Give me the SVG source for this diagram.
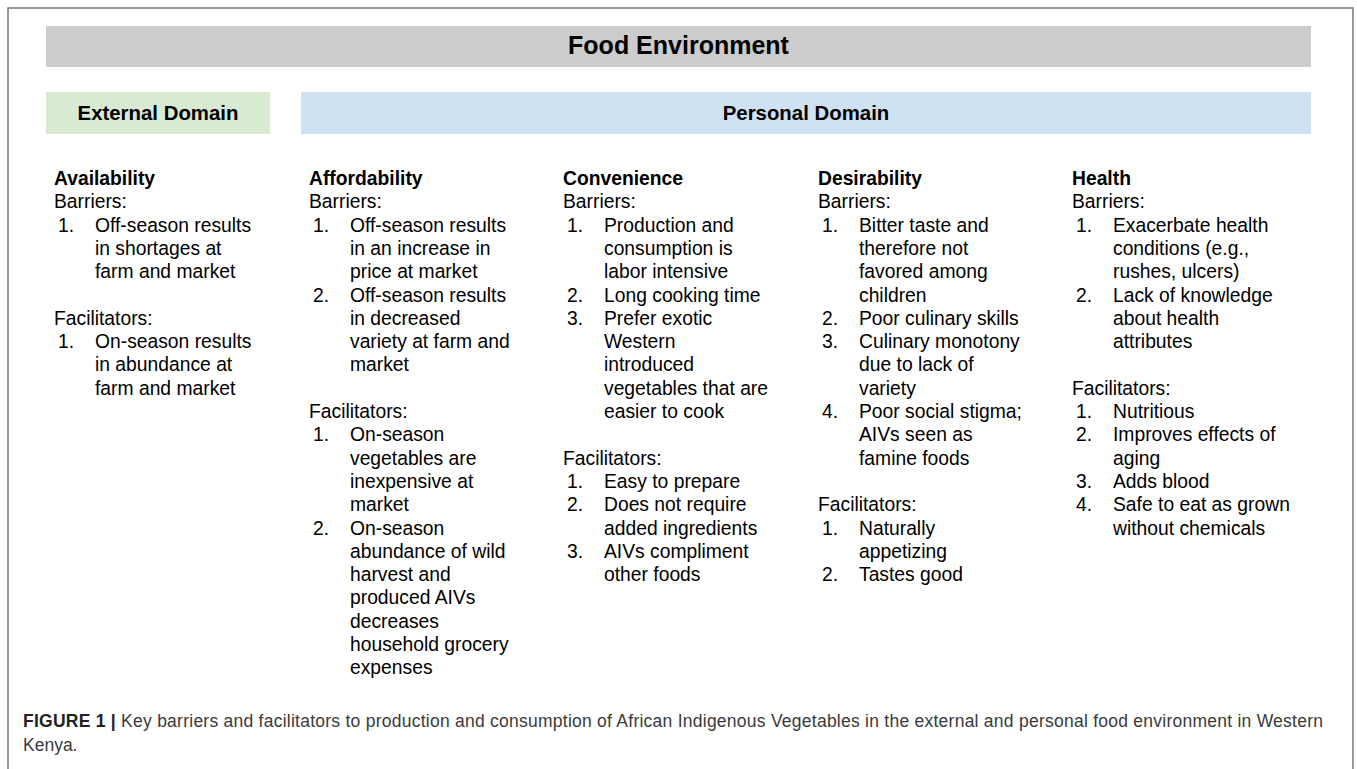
<svg xmlns="http://www.w3.org/2000/svg" width="1357" height="769" viewBox="0 0 1357 769">
<style>
.t{font-family:"Liberation Sans",Arial,Helvetica,sans-serif;font-size:19.3px;fill:#000}
.b{font-weight:bold}
.hd{font-family:"Liberation Sans",Arial,Helvetica,sans-serif;font-weight:bold;fill:#000;text-anchor:middle}
.cap{font-family:"Liberation Sans",Arial,Helvetica,sans-serif;font-size:17.5px;fill:#3a3a3a}
</style>
<rect x="0" y="0" width="1357" height="769" fill="#fff"/>
<rect id="frame" x="8" y="8" width="1345" height="780" fill="none" stroke="#777" stroke-width="1.5"/>
<g id="food-environment">
<rect x="46" y="26" width="1265" height="41" fill="#cccccc"/>
<text class="hd" x="678.5" y="54" font-size="25">Food Environment</text>
</g>
<g id="external-domain">
<rect x="46" y="92" width="224" height="42" fill="#d9ead3"/>
<text class="hd" x="158" y="119.5" font-size="20.4">External Domain</text>
</g>
<g id="personal-domain">
<rect x="301" y="92" width="1010" height="42" fill="#cfe2f3"/>
<text class="hd" x="806" y="119.5" font-size="20.4">Personal Domain</text>
</g>
<g id="availability" transform="translate(54,0)">
<text class="t b" x="0" y="185">Availability</text>
<text class="t" x="0" y="208.3">Barriers:</text>
<text class="t" x="4" y="231.6">1.</text><text class="t" x="41" y="231.6">Off-season results</text>
<text class="t" x="41" y="254.9">in shortages at</text>
<text class="t" x="41" y="278.2">farm and market</text>
<text class="t" x="0" y="324.8">Facilitators:</text>
<text class="t" x="4" y="348.1">1.</text><text class="t" x="41" y="348.1">On-season results</text>
<text class="t" x="41" y="371.4">in abundance at</text>
<text class="t" x="41" y="394.7">farm and market</text>
</g>
<g id="affordability" transform="translate(309,0)">
<text class="t b" x="0" y="185">Affordability</text>
<text class="t" x="0" y="208.3">Barriers:</text>
<text class="t" x="4" y="231.6">1.</text><text class="t" x="41" y="231.6">Off-season results</text>
<text class="t" x="41" y="254.9">in an increase in</text>
<text class="t" x="41" y="278.2">price at market</text>
<text class="t" x="4" y="301.5">2.</text><text class="t" x="41" y="301.5">Off-season results</text>
<text class="t" x="41" y="324.8">in decreased</text>
<text class="t" x="41" y="348.1">variety at farm and</text>
<text class="t" x="41" y="371.4">market</text>
<text class="t" x="0" y="418">Facilitators:</text>
<text class="t" x="4" y="441.3">1.</text><text class="t" x="41" y="441.3">On-season</text>
<text class="t" x="41" y="464.6">vegetables are</text>
<text class="t" x="41" y="487.9">inexpensive at</text>
<text class="t" x="41" y="511.2">market</text>
<text class="t" x="4" y="534.5">2.</text><text class="t" x="41" y="534.5">On-season</text>
<text class="t" x="41" y="557.8">abundance of wild</text>
<text class="t" x="41" y="581.1">harvest and</text>
<text class="t" x="41" y="604.4">produced AIVs</text>
<text class="t" x="41" y="627.7">decreases</text>
<text class="t" x="41" y="651">household grocery</text>
<text class="t" x="41" y="674.3">expenses</text>
</g>
<g id="convenience" transform="translate(563,0)">
<text class="t b" x="0" y="185">Convenience</text>
<text class="t" x="0" y="208.3">Barriers:</text>
<text class="t" x="4" y="231.6">1.</text><text class="t" x="41" y="231.6">Production and</text>
<text class="t" x="41" y="254.9">consumption is</text>
<text class="t" x="41" y="278.2">labor intensive</text>
<text class="t" x="4" y="301.5">2.</text><text class="t" x="41" y="301.5">Long cooking time</text>
<text class="t" x="4" y="324.8">3.</text><text class="t" x="41" y="324.8">Prefer exotic</text>
<text class="t" x="41" y="348.1">Western</text>
<text class="t" x="41" y="371.4">introduced</text>
<text class="t" x="41" y="394.7">vegetables that are</text>
<text class="t" x="41" y="418">easier to cook</text>
<text class="t" x="0" y="464.6">Facilitators:</text>
<text class="t" x="4" y="487.9">1.</text><text class="t" x="41" y="487.9">Easy to prepare</text>
<text class="t" x="4" y="511.2">2.</text><text class="t" x="41" y="511.2">Does not require</text>
<text class="t" x="41" y="534.5">added ingredients</text>
<text class="t" x="4" y="557.8">3.</text><text class="t" x="41" y="557.8">AIVs compliment</text>
<text class="t" x="41" y="581.1">other foods</text>
</g>
<g id="desirability" transform="translate(818,0)">
<text class="t b" x="0" y="185">Desirability</text>
<text class="t" x="0" y="208.3">Barriers:</text>
<text class="t" x="4" y="231.6">1.</text><text class="t" x="41" y="231.6">Bitter taste and</text>
<text class="t" x="41" y="254.9">therefore not</text>
<text class="t" x="41" y="278.2">favored among</text>
<text class="t" x="41" y="301.5">children</text>
<text class="t" x="4" y="324.8">2.</text><text class="t" x="41" y="324.8">Poor culinary skills</text>
<text class="t" x="4" y="348.1">3.</text><text class="t" x="41" y="348.1">Culinary monotony</text>
<text class="t" x="41" y="371.4">due to lack of</text>
<text class="t" x="41" y="394.7">variety</text>
<text class="t" x="4" y="418">4.</text><text class="t" x="41" y="418">Poor social stigma;</text>
<text class="t" x="41" y="441.3">AIVs seen as</text>
<text class="t" x="41" y="464.6">famine foods</text>
<text class="t" x="0" y="511.2">Facilitators:</text>
<text class="t" x="4" y="534.5">1.</text><text class="t" x="41" y="534.5">Naturally</text>
<text class="t" x="41" y="557.8">appetizing</text>
<text class="t" x="4" y="581.1">2.</text><text class="t" x="41" y="581.1">Tastes good</text>
</g>
<g id="health" transform="translate(1072,0)">
<text class="t b" x="0" y="185">Health</text>
<text class="t" x="0" y="208.3">Barriers:</text>
<text class="t" x="4" y="231.6">1.</text><text class="t" x="41" y="231.6">Exacerbate health</text>
<text class="t" x="41" y="254.9">conditions (e.g.,</text>
<text class="t" x="41" y="278.2">rushes, ulcers)</text>
<text class="t" x="4" y="301.5">2.</text><text class="t" x="41" y="301.5">Lack of knowledge</text>
<text class="t" x="41" y="324.8">about health</text>
<text class="t" x="41" y="348.1">attributes</text>
<text class="t" x="0" y="394.7">Facilitators:</text>
<text class="t" x="4" y="418">1.</text><text class="t" x="41" y="418">Nutritious</text>
<text class="t" x="4" y="441.3">2.</text><text class="t" x="41" y="441.3">Improves effects of</text>
<text class="t" x="41" y="464.6">aging</text>
<text class="t" x="4" y="487.9">3.</text><text class="t" x="41" y="487.9">Adds blood</text>
<text class="t" x="4" y="511.2">4.</text><text class="t" x="41" y="511.2">Safe to eat as grown</text>
<text class="t" x="41" y="534.5">without chemicals</text>
</g>
<g id="caption">
<text class="cap" x="23" y="727" textLength="1300" lengthAdjust="spacing"><tspan font-weight="bold" fill="#222">FIGURE 1 |</tspan> Key barriers and facilitators to production and consumption of African Indigenous Vegetables in the external and personal food environment in Western</text>
<text class="cap" x="23" y="751">Kenya.</text>
</g>
</svg>
